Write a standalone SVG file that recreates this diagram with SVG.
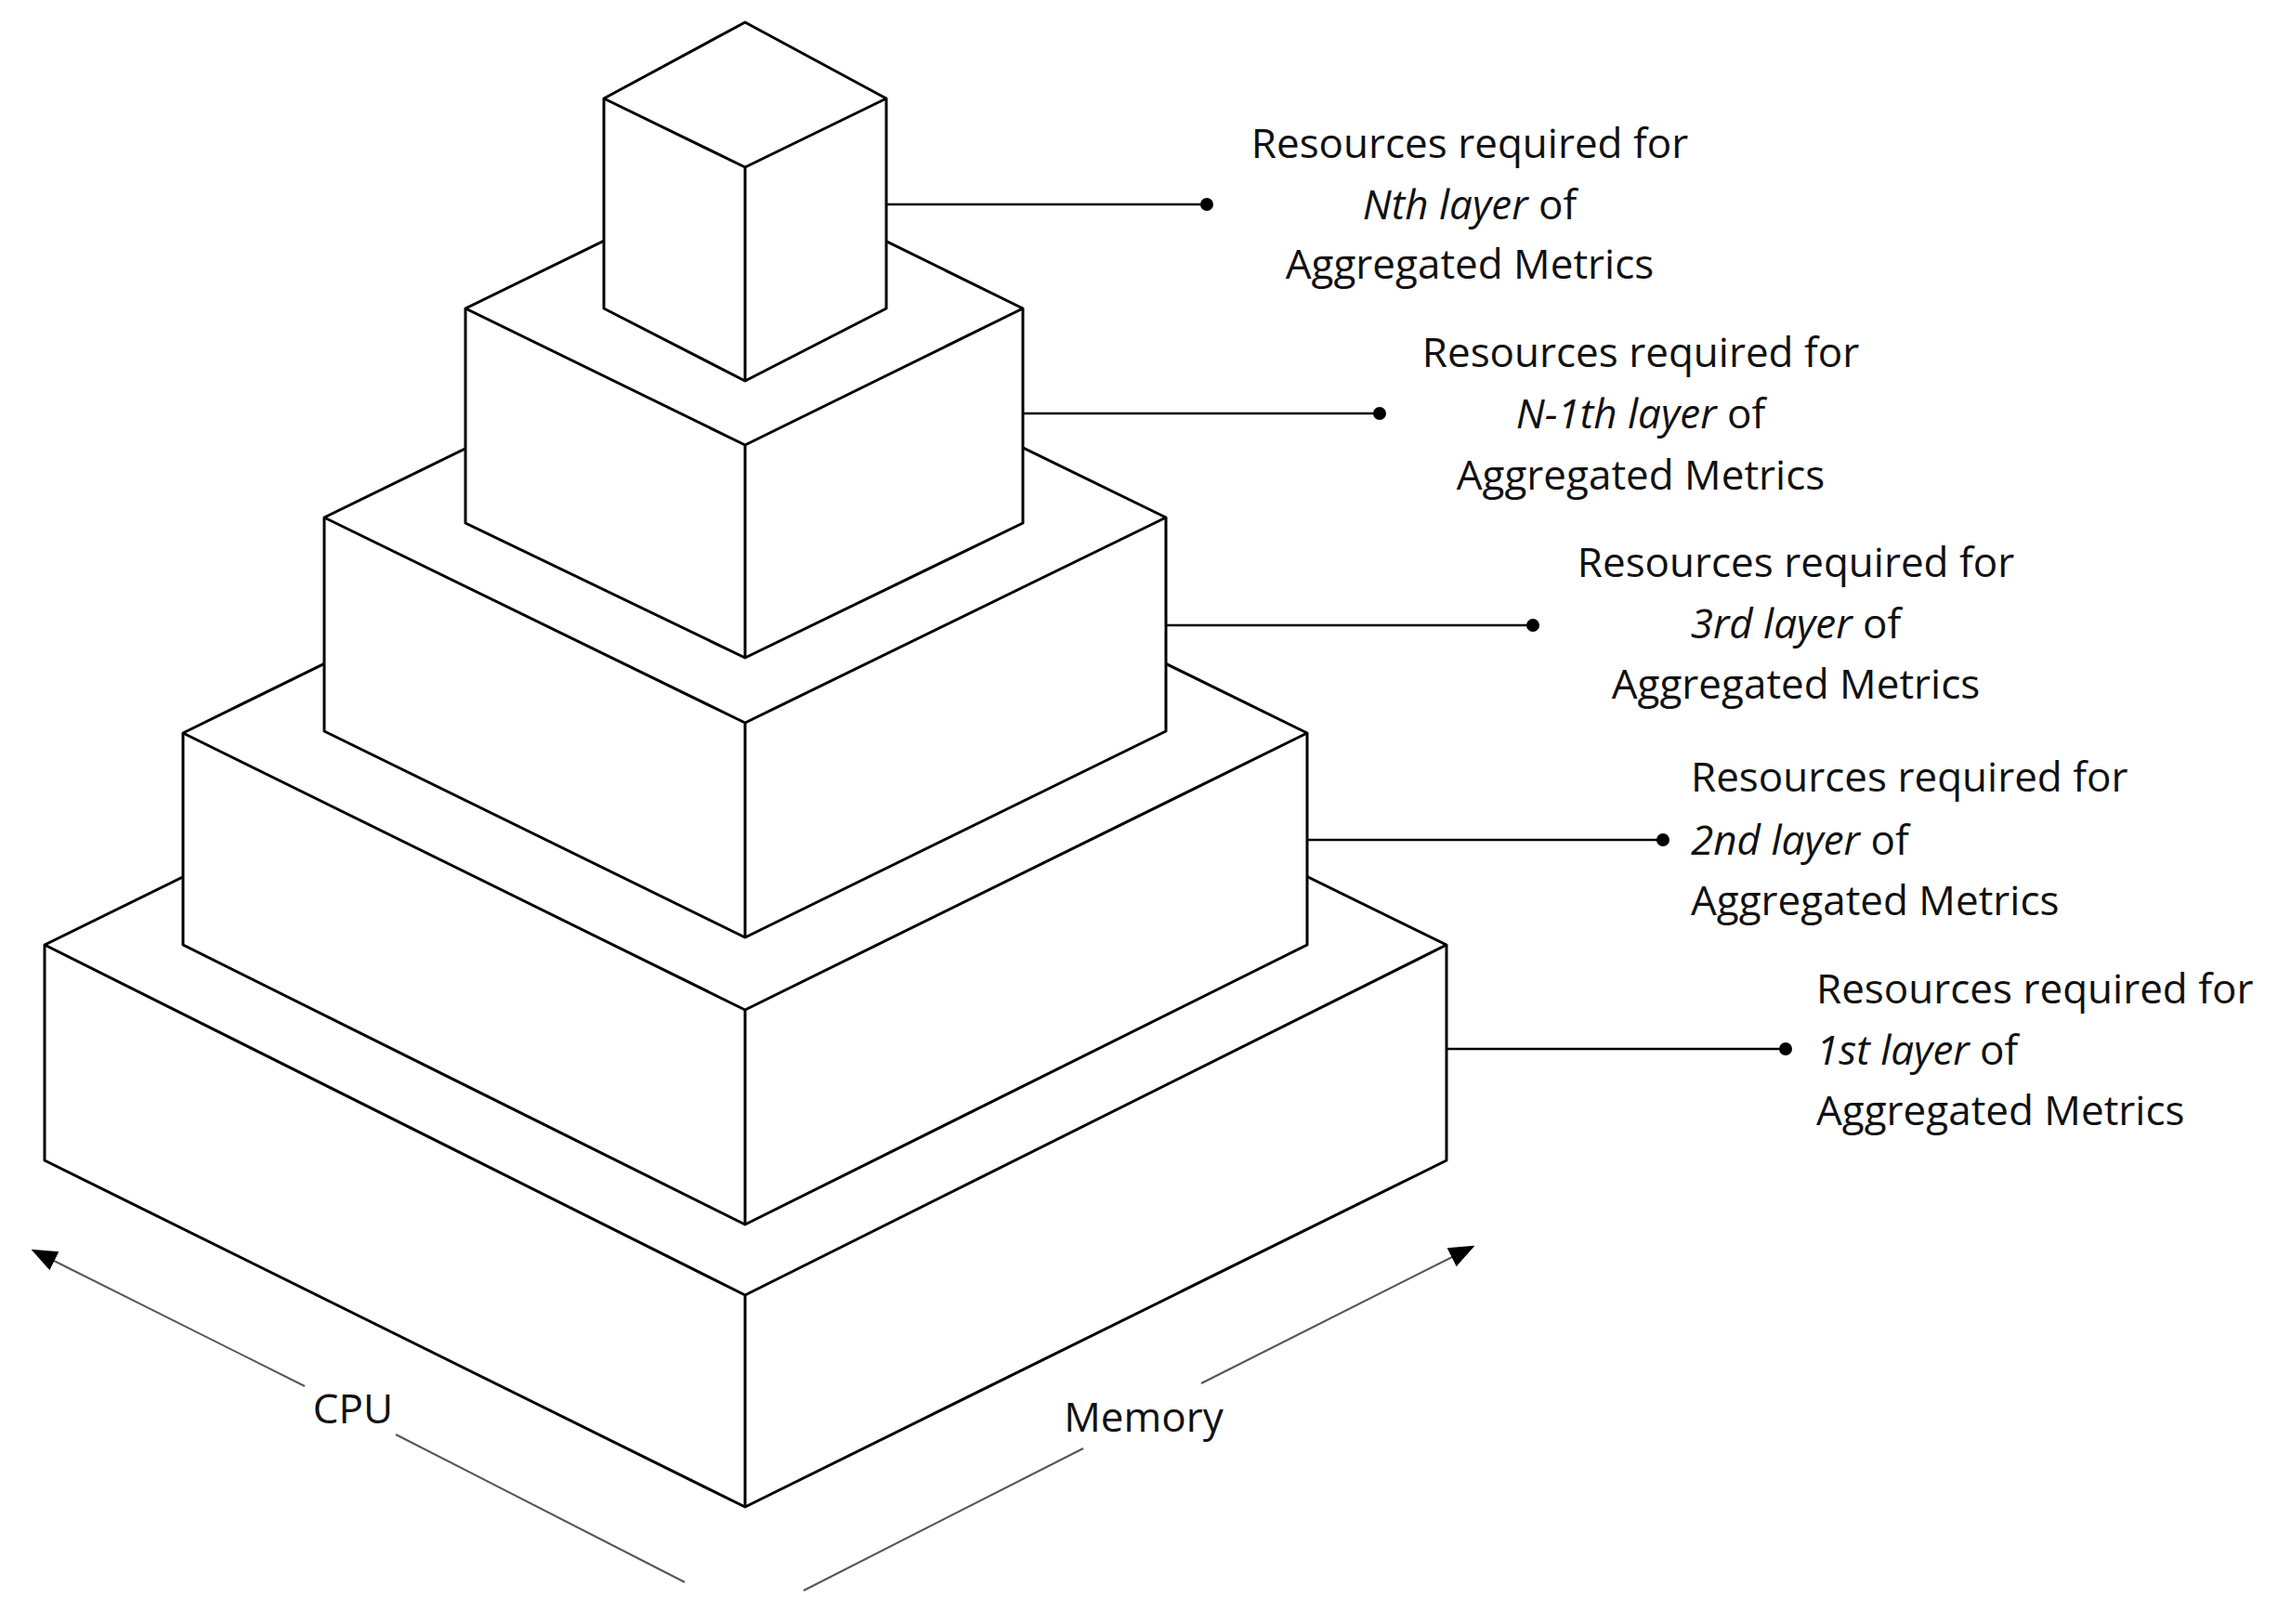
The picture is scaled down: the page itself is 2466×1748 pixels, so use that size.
<svg xmlns="http://www.w3.org/2000/svg" width="2466" height="1748" viewBox="0 0 2466 1748">
<style>
.b{fill:#fff;stroke:#000;stroke-width:3;stroke-linejoin:round}
.c{stroke:#000;stroke-width:2.5;fill:none}
.a{stroke:#555;stroke-width:2;fill:none}
text{font-family:"Open Sans","Liberation Sans",sans-serif;font-size:44px;fill:#111}
.m{text-anchor:middle}
</style>
<defs>
<marker id="ah2" viewBox="0 0 10 10" refX="9" refY="5" markerWidth="28" markerHeight="28" orient="auto" markerUnits="userSpaceOnUse"><path d="M0,1L10,5L0,9z" fill="#000"/></marker></defs>
<g id="layer1"><path class="b" d="M48,1017L802,647L1557,1017L1557,1249L802,1622L48,1249Z"/><path class="b" d="M48,1017L802,1394L1557,1017M802,1394L802,1622"/></g>
<g id="layer2"><path class="b" d="M197,789L802,492L1407,789L1407,1017L802,1318L197,1017Z"/><path class="b" d="M197,789L802,1087L1407,789M802,1087L802,1318"/></g>
<g id="layer3"><path class="b" d="M349,557L802,336L1255,557L1255,787L802,1009L349,787Z"/><path class="b" d="M349,557L802,778L1255,557M802,778L802,1009"/></g>
<g id="layer4"><path class="b" d="M501,332L802,185L1101,332L1101,563L802,708L501,563Z"/><path class="b" d="M501,332L802,479L1101,332M802,479L802,708"/></g>
<g id="layer5"><path class="b" d="M650,106L802,24L954,106L954,332L802,410L650,332Z"/><path class="b" d="M650,106L802,180L954,106M802,180L802,410"/></g>
<g id="connectors">
<path class="c" d="M954,220H1299M1101,445H1485M1255,673H1650M1407,904H1790M1557,1129H1922"/>
<g fill="#000"><circle cx="1299" cy="220" r="7"/><circle cx="1485" cy="445" r="7"/><circle cx="1650" cy="673" r="7"/><circle cx="1790" cy="904" r="7"/><circle cx="1922" cy="1129" r="7"/></g>
<path class="a" d="M328,1492L36,1346" marker-end="url(#ah2)"/>
<path class="a" d="M426,1544L737,1703"/>
<path class="a" d="M1293,1489L1585,1342" marker-end="url(#ah2)"/>
<path class="a" d="M1166,1559L865,1712"/>
</g>
<g id="labels">
<text class="m" x="380" y="1532">CPU</text>
<text class="m" x="1231" y="1541">Memory</text>
<text class="m" x="1582" y="170">Resources required for</text>
<text class="m" x="1582" y="236"><tspan font-style="italic">Nth layer</tspan> of</text>
<text class="m" x="1582" y="300">Aggregated Metrics</text>
<text class="m" x="1766" y="395">Resources required for</text>
<text class="m" x="1766" y="461"><tspan font-style="italic">N-1th layer</tspan> of</text>
<text class="m" x="1766" y="527">Aggregated Metrics</text>
<text class="m" x="1933" y="621">Resources required for</text>
<text class="m" x="1933" y="687"><tspan font-style="italic">3rd layer</tspan> of</text>
<text class="m" x="1933" y="752">Aggregated Metrics</text>
<text x="1820" y="852">Resources required for</text>
<text x="1820" y="920"><tspan font-style="italic">2nd layer</tspan> of</text>
<text x="1820" y="985">Aggregated Metrics</text>
<text x="1955" y="1080">Resources required for</text>
<text x="1955" y="1146"><tspan font-style="italic">1st layer</tspan> of</text>
<text x="1955" y="1211">Aggregated Metrics</text>
</g>
</svg>
